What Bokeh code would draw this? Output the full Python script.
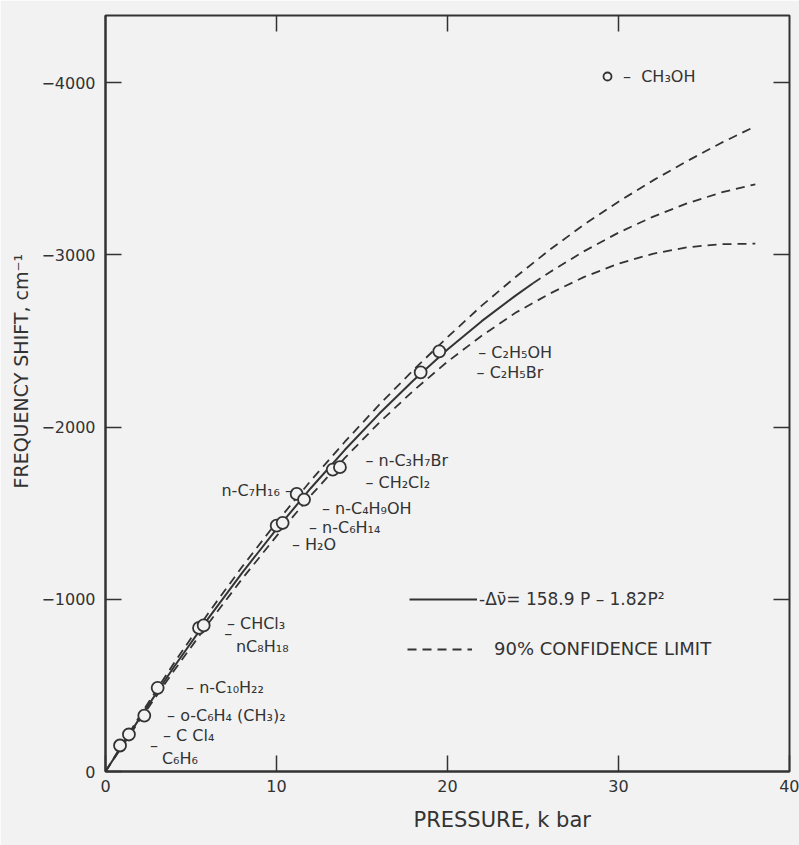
import math
from bokeh.plotting import figure
from bokeh.models import (Range1d, FixedTicker, LinearAxis, Label, Legend,
                          LegendItem, CustomJSTickFormatter, Title)
from bokeh.embed import file_html
from bokeh.resources import INLINE

BG = "#f2f2f2"
INK = "#333333"
FONT = "DejaVu Sans"

# ---------------- data ----------------
# measured points (CH3OH), pressure in kbar, frequency shift in cm-1
pressure_kbar = [0.85, 1.37, 2.27, 3.05, 5.47, 5.74, 10.01, 10.36,
                 11.18, 11.61, 13.29, 13.71, 18.43, 19.52]
shift_cm = [-151, -215, -325, -486, -834, -848, -1428, -1444,
            -1612, -1579, -1753, -1767, -2318, -2440]

# fitted curve -dv = 158.9 P - 1.82 P^2 (solid part, then dashed extension)
fit_p = [0, 2, 4, 6, 8, 10, 12, 14, 16, 18, 20, 22, 24, 25]
fit_shift = [0, -310, -607, -888, -1155, -1407, -1645, -1868, -2077,
             -2271, -2450, -2615, -2765, -2835]
ext_p = [25, 26, 28, 30, 32, 34, 36, 38]
ext_shift = [-2835, -2901, -3022, -3129, -3221, -3299, -3362, -3410]

# 90% confidence limits
conf_p = [0, 2, 4, 6, 8, 10, 12, 14, 16, 18, 20, 22, 24, 26, 28, 30,
          32, 34, 36, 38]
upper_shift = [0, -322, -629, -918, -1190, -1447, -1688, -1915, -2129,
               -2331, -2522, -2705, -2873, -3031, -3177, -3309, -3431,
               -3544, -3650, -3746]
lower_shift = [0, -298, -585, -858, -1120, -1367, -1602, -1821, -2025,
               -2211, -2380, -2530, -2665, -2776, -2872, -2949, -3006,
               -3044, -3062, -3065]

x_ticks = [0, 10, 20, 30, 40]
y_ticks = [0, -1000, -2000, -3000, -4000]

compound_names = ["– C₂H₅OH", "– C₂H₅Br", "– n-C₃H₇Br", "– CH₂Cl₂",
                  "n-C₇H₁₆ –", "– n-C₄H₉OH", "– n-C₆H₁₄", "– H₂O",
                  "– CHCl₃", "–", "nC₈H₁₈", "– n-C₁₀H₂₂",
                  "– o-C₆H₄ (CH₃)₂", "– C Cl₄", "–", "C₆H₆"]

fit_label = "-Δν̄= 158.9 P – 1.82P²"
conf_label = "90% CONFIDENCE LIMIT"
point_label = "–  CH₃OH"
x_title = "PRESSURE, k bar"
y_title = "FREQUENCY SHIFT, cm⁻¹"

# ---------------- layout of annotations ----------------
label_pos = [(21.8, -2432, "left"), (21.7, -2316, "left"),
             (15.2, -1805, "left"), (15.2, -1678, "left"),
             (10.96, -1631, "right"), (12.66, -1527, "left"),
             (11.9, -1417, "left"), (10.9, -1318, "left"),
             (7.1, -859, "left"), (6.95, -801, "left"),
             (7.63, -728, "left"), (4.71, -488, "left"),
             (3.6, -325, "left"), (3.36, -209, "left"),
             (2.6, -151, "left"), (3.3, -75, "left")]

p = figure(width=799, height=845, output_backend="svg", toolbar_location=None,
           x_range=Range1d(0, 40), y_range=Range1d(0, -4390),
           min_border_left=105, min_border_right=10, min_border_top=15,
           min_border_bottom=74)
p.background_fill_color = BG
p.border_fill_color = BG
p.outline_line_color = INK
p.outline_line_width = 2
p.grid.visible = False

for ax in (p.xaxis[0], p.yaxis[0]):
    ax.axis_line_color = INK
    ax.axis_line_width = 2
    ax.major_tick_in = 16
    ax.major_tick_out = 0
    ax.major_tick_line_color = INK
    ax.major_tick_line_width = 1.5
    ax.minor_tick_line_color = None
    ax.major_label_text_font = FONT
    ax.major_label_text_font_size = "16px"
    ax.major_label_text_color = INK

p.xaxis[0].ticker = FixedTicker(ticks=x_ticks)
p.yaxis[0].ticker = FixedTicker(ticks=y_ticks)
p.xaxis[0].major_label_standoff = 8
p.yaxis[0].major_label_standoff = 10

blank = CustomJSTickFormatter(code="return ''")
top = LinearAxis(ticker=FixedTicker(ticks=[10, 20, 30]), formatter=blank,
                 axis_line_color=None, major_tick_in=16, major_tick_out=0,
                 major_tick_line_color=INK, major_tick_line_width=1.5,
                 minor_tick_line_color=None, major_label_standoff=0,
                 major_label_text_font_size="1px")
right = LinearAxis(ticker=FixedTicker(ticks=[-1000, -2000, -3000, -4000]),
                   formatter=blank, axis_line_color=None, major_tick_in=16,
                   major_tick_out=0, major_tick_line_color=INK,
                   major_tick_line_width=1.5, minor_tick_line_color=None,
                   major_label_standoff=0, major_label_text_font_size="1px")
p.add_layout(top, "above")
p.add_layout(right, "right")

# axis titles (offset from the frame start, as in the original)
p.add_layout(Title(text=x_title, align="left", offset=308, standoff=22,
                   text_font=FONT, text_font_size="21px",
                   text_font_style="normal", text_color=INK), "below")
p.add_layout(Title(text=y_title, align="left", offset=283, standoff=14,
                   text_font=FONT, text_font_size="19px",
                   text_font_style="normal", text_color=INK), "left")

dash = "9 6"
r_up = p.line(conf_p, upper_shift, line_color=INK, line_width=1.8,
              line_dash=dash)
p.line(conf_p, lower_shift, line_color=INK, line_width=1.8, line_dash=dash)
p.line(ext_p, ext_shift, line_color=INK, line_width=1.8, line_dash=dash)
r_fit = p.line(fit_p, fit_shift, line_color=INK, line_width=2)
r_pts = p.scatter(pressure_kbar, shift_cm, marker="circle", size=12,
                  line_color=INK, line_width=1.8, fill_color=BG)

for name, (lx, ly, al) in zip(compound_names, label_pos):
    p.add_layout(Label(x=lx, y=ly, text=name, text_align=al,
                       text_baseline="middle", text_font=FONT,
                       text_font_size="16px", text_color=INK))

def make_legend(items, loc, gw, standoff, size):
    lg = Legend(items=items, location=loc, glyph_width=gw, glyph_height=20,
                label_standoff=standoff, padding=0, margin=0, spacing=0,
                background_fill_alpha=0, border_line_color=None,
                label_text_font=FONT, label_text_font_size=size,
                label_text_color=INK, label_height=20)
    p.add_layout(lg, "center")

make_legend([LegendItem(label=fit_label, renderers=[r_fit])], (304, 162), 68, 2, "17px")
make_legend([LegendItem(label=conf_label, renderers=[r_up])], (302, 112), 65, 22, "18px")
make_legend([LegendItem(label=point_label, renderers=[r_pts])], (492, 685), 20, 6, "16px")

open("out.html", "w").write(file_html(p, INLINE))
